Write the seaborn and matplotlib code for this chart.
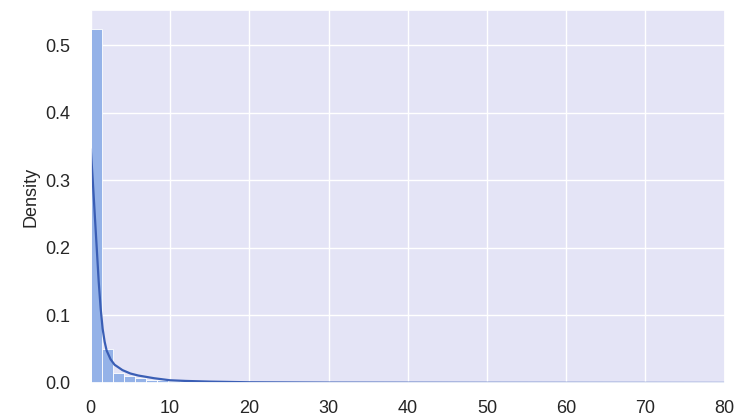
import matplotlib
matplotlib.use("Agg")
import matplotlib.pyplot as plt
import seaborn as sns
import numpy as np
import pandas as pd

# Histogram: 50 bins of width 1.4 from 0 to 70, density heights
bin_edges = [round(i * 1.4, 2) for i in range(51)]
bin_heights = [0.524, 0.050, 0.015, 0.010, 0.008, 0.005, 0.004, 0.003, 0.002, 0.002,
               0.0015, 0.0012, 0.001, 0.001, 0.0008, 0.0006, 0.0005, 0.0004, 0.0004, 0.0003,
               0.0003, 0.0002, 0.0002, 0.0002, 0.0001, 0.0001, 0.0001, 0.0001, 0.0001, 0.0001,
               0.0001, 0.0, 0.0, 0.0001, 0.0, 0.0, 0.0, 0.0, 0.0, 0.0,
               0.0, 0.0, 0.0, 0.0, 0.0, 0.0, 0.0, 0.0, 0.0, 0.0001]

# KDE curve
kde_x = [0, 0.25, 0.5, 0.75, 1.0, 1.25, 1.5, 1.75, 2.0, 2.5, 3.0, 4.0, 5.0, 6.0, 7.0, 8.0,
         10.0, 12.0, 15.0, 20.0, 30.0, 50.0, 80.0]
kde_y = [0.346, 0.30, 0.25, 0.20, 0.15, 0.11, 0.08, 0.061, 0.048, 0.035, 0.027, 0.019, 0.014,
         0.011, 0.009, 0.007, 0.004, 0.003, 0.002, 0.001, 0.0005, 0.0002, 0.0]

x_ticks = [0, 10, 20, 30, 40, 50, 60, 70, 80]
y_ticks = [0.0, 0.1, 0.2, 0.3, 0.4, 0.5]

sns.set_theme(style="darkgrid", rc={"axes.facecolor": "#E4E4F6"})
plt.rcParams["font.family"] = ["Liberation Sans", "DejaVu Sans"]

fig = plt.figure(figsize=(7.38, 4.19), dpi=100)
ax = fig.add_axes([0.123, 0.086, 0.859, 0.890])

centers = [(bin_edges[i] + bin_edges[i + 1]) / 2 for i in range(len(bin_heights))]
hist_df = pd.DataFrame({"x": centers, "w": bin_heights})
sns.histplot(data=hist_df, x="x", weights="w", bins=bin_edges, stat="count",
             color="#94B2E8", alpha=1.0, edgecolor="white", linewidth=0.6, ax=ax)

kde_df = pd.DataFrame({"x": kde_x, "y": kde_y})
sns.lineplot(data=kde_df, x="x", y="y", color="#3A5EB5", linewidth=1.6, ax=ax)

ax.set_xlim(0, 80)
ax.set_ylim(0, 0.552)
ax.set_xticks(x_ticks)
ax.set_yticks(y_ticks)
ax.set_xticklabels([str(t) for t in x_ticks])
ax.set_yticklabels([f"{t:.1f}" for t in y_ticks])
ax.tick_params(axis="both", labelsize=13, colors="#262626", length=0)
ax.tick_params(axis="x", pad=12)
ax.tick_params(axis="y", pad=15)
ax.set_xlabel("")
ax.set_ylabel("Density", fontsize=13, color="#262626", labelpad=4)

fig.savefig("out.png", dpi=100)
